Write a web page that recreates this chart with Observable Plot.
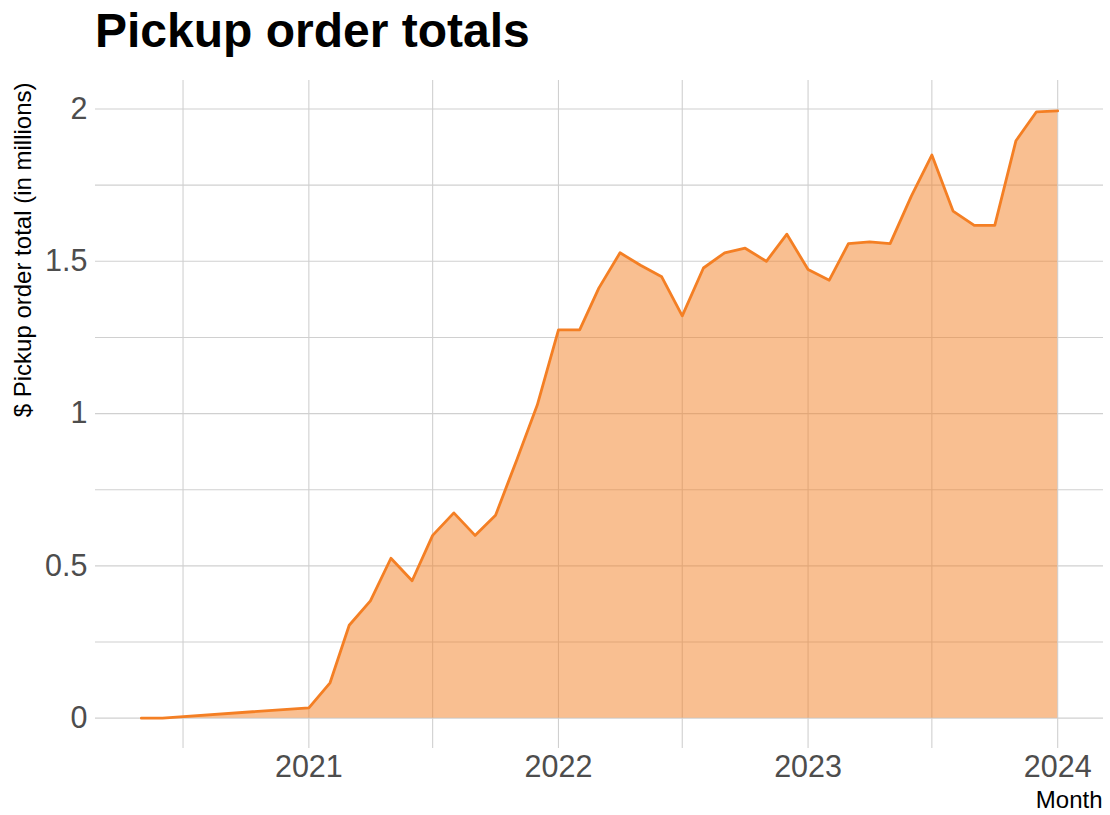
<!DOCTYPE html>
<html>
<head>
<meta charset="utf-8">
<script src="https://cdn.jsdelivr.net/npm/d3@7"></script>
<script src="https://cdn.jsdelivr.net/npm/@observablehq/plot@0.6"></script>
<style>
  html, body { margin: 0; padding: 0; background: #fff; overflow: hidden; }
  #title { font-family: "Liberation Sans", Arial, sans-serif; font-weight: bold; font-size: 48px; line-height: 1; height: 63px; padding-top: 7px; padding-left: 95px; color: #000; }
</style>
</head>
<body>
<div id="title">Pickup order totals</div>
<div id="chart"></div>
<script>
const months = ["2020-05","2020-06","2021-01","2021-02","2021-03","2021-04","2021-05","2021-06","2021-07","2021-08","2021-09","2021-10","2021-11","2021-12","2022-01","2022-02","2022-03","2022-04","2022-05","2022-06","2022-07","2022-08","2022-09","2022-10","2022-11","2022-12","2023-01","2023-02","2023-03","2023-04","2023-05","2023-06","2023-07","2023-08","2023-09","2023-10","2023-11","2023-12","2024-01"];
const totals = [0,0,0.034,0.116,0.305,0.385,0.525,0.451,0.600,0.674,0.600,0.666,0.848,1.028,1.275,1.275,1.412,1.528,1.487,1.449,1.321,1.478,1.528,1.543,1.500,1.589,1.473,1.438,1.558,1.564,1.558,1.714,1.849,1.665,1.618,1.618,1.896,1.991,1.994];
const yTicks = [0, 0.5, 1, 1.5, 2];
const yMinor = [0.25, 0.75, 1.25, 1.75];
const xTickLabels = ["2021","2022","2023","2024"];
const xMinorLabels = ["2020-07","2021-07","2022-07","2023-07"];
const yTitle = "$ Pickup order total (in millions)";
const xTitle = "Month";

const parse = d3.utcParse("%Y-%m");
const parseY = d3.utcParse("%Y");
const data = months.map((m, i) => ({date: parse(m), value: totals[i]}));
const xTicks = xTickLabels.map(parseY);
const xMinor = xMinorLabels.map(parse);

const [d0, d1] = d3.extent(data, d => d.date);
const pad = (d1 - d0) * 0.05;
const xDomain = [new Date(+d0 - pad), new Date(+d1 + pad)];
const [v0, v1] = d3.extent(totals);
const vpad = (v1 - v0) * 0.05;
const yDomain = [v0 - vpad, v1 + vpad];

const orange = "#F47F24";
const grid = "#D0D0D0";
const tickColor = "#4D4D4D";

const plot = Plot.plot({
  width: 1110,
  height: 745,
  marginTop: 10,
  marginBottom: 67,
  marginLeft: 95,
  marginRight: 7,
  style: {fontFamily: "'Liberation Sans', Arial, sans-serif", background: "#fff"},
  x: {type: "utc", domain: xDomain},
  y: {domain: yDomain},
  marks: [
    Plot.ruleY([...yTicks, ...yMinor], {stroke: grid, strokeWidth: 1.1}),
    Plot.ruleX([...xTicks, ...xMinor], {stroke: grid, strokeWidth: 1.1}),
    Plot.areaY(data, {x: "date", y: "value", fill: orange, fillOpacity: 0.5}),
    Plot.lineY(data, {x: "date", y: "value", stroke: orange, strokeWidth: 2.8}),
    Plot.axisY({ticks: yTicks, tickSize: 0, tickPadding: 8, tickFormat: d => String(d), fontSize: 30.5, fill: tickColor, label: null}),
    Plot.axisX({ticks: xTicks, tickSize: 0, tickPadding: 7, tickFormat: d3.utcFormat("%Y"), fontSize: 30.5, fill: tickColor, label: null}),
    Plot.text([xTitle], {frameAnchor: "bottom-right", textAnchor: "end", lineAnchor: "bottom", dx: -1, dy: 59, fontSize: 24, fill: "#000"}),
    Plot.text([yTitle], {frameAnchor: "top-left", rotate: -90, textAnchor: "end", lineAnchor: "bottom", dx: -65, dy: 2, fontSize: 24, fill: "#000"})
  ]
});
document.getElementById("chart").appendChild(plot);
</script>
</body>
</html>
